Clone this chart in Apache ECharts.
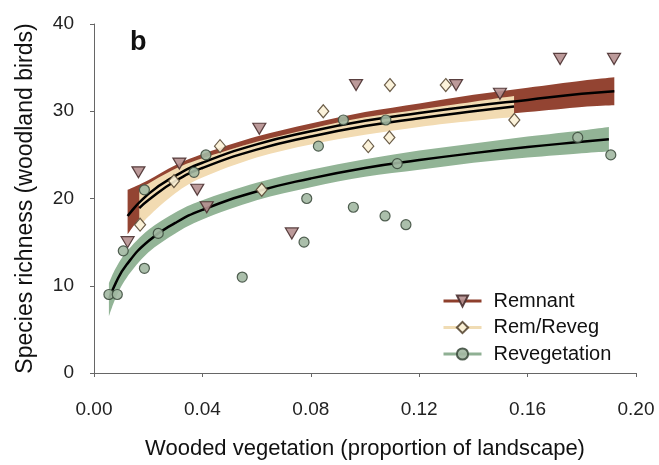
<!DOCTYPE html>
<html><head><meta charset="utf-8">
<script src="https://cdn.jsdelivr.net/npm/echarts@6/dist/echarts.min.js"></script>
<style>html,body{margin:0;padding:0;background:#fff}#c{width:659px;height:465px}</style>
</head><body><div id="c"></div>
<script>
// observed points
const remnantX = [0.0124,0.0164,0.0315,0.0381,0.0416,0.061,0.073,0.0967,0.1336,0.1498,0.172,0.1919];
const remnantY = [15,23,24,21,19,28,16,33,33,32,36,36];
const remRevegX = [0.017,0.0295,0.0465,0.0619,0.0846,0.1012,0.1092,0.109,0.1298,0.1551];
const remRevegY = [17,22,26,21,30,26,33,27,33,29];
const revegX = [0.0055,0.0086,0.0108,0.0186,0.0186,0.0237,0.0369,0.0413,0.0547,0.0775,0.0785,0.0828,0.092,0.0957,0.1074,0.1077,0.1119,0.1151,0.1785,0.1907];
const revegY = [9,9,14,12,21,16,23,25,11,15,20,26,29,19,18,29,24,17,27,25];

// fitted curves and confidence bands
const remFitX = [0.0124,0.02,0.03,0.04,0.06,0.08,0.10,0.12,0.14,0.16,0.18,0.192];
const remFitY = [18.0,20.5,22.6,24.1,26.2,27.7,28.9,29.8,30.6,31.3,32.0,32.3];
const remLow  = [15.9,18.9,21.4,23.1,25.3,26.8,27.9,28.7,29.3,29.9,30.5,30.7];
const remHigh = [21.0,22.1,23.8,25.1,27.1,28.6,29.9,30.9,31.9,32.7,33.5,33.9];

const rrFitX = [0.0167,0.02,0.03,0.04,0.06,0.08,0.10,0.12,0.14,0.155];
const rrFitY = [18.9,19.8,22.0,23.5,25.6,27.1,28.3,29.2,30.0,30.55];
const rrLow  = [16.6,17.9,20.6,22.4,24.7,26.2,27.3,28.2,28.9,29.35];
const rrHigh = [21.2,21.7,23.4,24.6,26.5,28.0,29.3,30.2,31.1,31.75];

const rvFitX = [0.0055,0.008,0.012,0.02,0.03,0.04,0.06,0.08,0.10,0.12,0.14,0.16,0.18,0.19];
const rvFitY = [8.4,10.3,12.4,15.1,17.2,18.7,20.8,22.3,23.5,24.4,25.2,25.9,26.5,26.8];
const rvLow  = [6.5,8.6,10.9,13.8,16.0,17.6,19.8,21.3,22.5,23.3,24.1,24.7,25.2,25.4];
const rvHigh = [10.3,12.0,13.9,16.4,18.4,19.8,21.8,23.3,24.5,25.5,26.3,27.1,27.8,28.2];

const xTicks = [0, 0.04, 0.08, 0.12, 0.16, 0.20];
const yTicks = [0, 10, 20, 30, 40];

const FONT = 'Liberation Sans, Arial, sans-serif';
const zip = (a, b) => a.map((v, i) => [v, b[i]]);

function catmull(p) {
  let d = '';
  for (let i = 0; i < p.length - 1; i++) {
    const p0 = p[i - 1] || p[i], p1 = p[i], p2 = p[i + 1], p3 = p[i + 2] || p[i + 1];
    const c1 = [p1[0] + (p2[0] - p0[0]) / 6, p1[1] + (p2[1] - p0[1]) / 6];
    const c2 = [p2[0] - (p3[0] - p1[0]) / 6, p2[1] - (p3[1] - p1[1]) / 6];
    d += ' C' + c1.join(',') + ' ' + c2.join(',') + ' ' + p2.join(',');
  }
  return d;
}
function band(xs, lo, hi, color, z) {
  return {
    type: 'custom', z: z, silent: true,
    data: xs.map((x, i) => [x, lo[i], hi[i]]),
    encode: { x: 0, y: [1, 2] },
    renderItem: (params, api) => {
      if (params.dataIndex !== 0) return null;
      const up = xs.map((x, i) => api.coord([x, hi[i]]));
      const dn = xs.map((x, i) => api.coord([x, lo[i]])).reverse();
      const d = 'M' + up[0].join(',') + catmull(up) + ' L' + dn[0].join(',') + catmull(dn) + ' Z';
      return { type: 'path', shape: { pathData: d }, style: { fill: color } };
    }
  };
}
function fit(xs, ys) {
  return { type: 'line', data: zip(xs, ys), smooth: true, symbol: 'none',
    lineStyle: { color: '#000', width: 2.5 }, z: 5, silent: true };
}
function pts(name, xs, ys, symbol, size, rot, fill, border) {
  return { type: 'line', name: name, data: zip(xs, ys), symbol: symbol, symbolSize: size, symbolRotate: rot,
    showSymbol: true, showAllSymbol: true, lineStyle: { opacity: 0, width: 0 },
    itemStyle: { color: fill, borderColor: border, borderWidth: 1.2, opacity: 0.9 }, z: 6 };
}

const chart = echarts.init(document.getElementById('c'));
chart.setOption({
  animation: false,
  backgroundColor: '#fff',
  title: { text: 'b', left: 125, top: 24, textStyle: { fontSize: 27, fontWeight: 'bold', color: '#111', fontFamily: FONT } },
  grid: { left: 94, right: 23, top: 24, bottom: 84 },
  xAxis: {
    type: 'value', min: 0, max: 0.2, interval: 0.04,
    name: 'Wooded vegetation (proportion of landscape)', nameLocation: 'middle', nameGap: 65,
    nameTextStyle: { fontSize: 22, color: '#111', fontFamily: FONT },
    axisLine: { show: true, lineStyle: { color: '#666', width: 1 } },
    axisTick: { show: true, length: 4, lineStyle: { color: '#666' } },
    axisLabel: { fontSize: 19, color: '#222', fontFamily: FONT, margin: 27,
      formatter: v => xTicks.find(t => Math.abs(t - v) < 1e-9) !== undefined ? v.toFixed(2) : '' },
    splitLine: { show: false }
  },
  yAxis: {
    type: 'value', min: 0, max: 40, interval: 10,
    name: 'Species richness (woodland birds)', nameLocation: 'middle', nameGap: 57,
    nameTextStyle: { fontSize: 23, color: '#111', fontFamily: FONT },
    axisLine: { show: true, lineStyle: { color: '#666', width: 1 } },
    axisTick: { show: true, length: 4, lineStyle: { color: '#666' } },
    axisLabel: { fontSize: 19, color: '#222', fontFamily: FONT, margin: 20,
      formatter: v => yTicks.includes(v) ? String(v) : '' },
    splitLine: { show: false }
  },
  legend: {
    orient: 'vertical', left: 437, top: 286, itemWidth: 38, itemHeight: 14, itemGap: 6.5,
    textStyle: { fontSize: 20, color: '#111', fontFamily: FONT, padding: [0, 0, 0, 7] },
    data: [
      { name: 'Remnant', lineStyle: { color: '#8e3f2c', width: 3, opacity: 1 } },
      { name: 'Rem/Reveg', lineStyle: { color: '#f0dcb4', width: 3, opacity: 1 } },
      { name: 'Revegetation', lineStyle: { color: '#8fb093', width: 3, opacity: 1 } }
    ]
  },
  series: [
    band(remFitX, remLow, remHigh, '#934432', 1),
    band(rrFitX, rrLow, rrHigh, '#f2dbb2', 2),
    band(rvFitX, rvLow, rvHigh, '#92b496', 3),
    fit(remFitX, remFitY),
    fit(rrFitX, rrFitY),
    fit(rvFitX, rvFitY),
    pts('Remnant', remnantX, remnantY, 'triangle', [13, 11], 180, '#b58f8f', '#4a3030'),
    pts('Rem/Reveg', remRevegX, remRevegY, 'diamond', [11, 13], 0, '#fbf1d6', '#5a4a35'),
    pts('Revegetation', revegX, revegY, 'circle', 10, 0, '#a2b8a2', '#3f4f40')
  ]
});
</script></body></html>
